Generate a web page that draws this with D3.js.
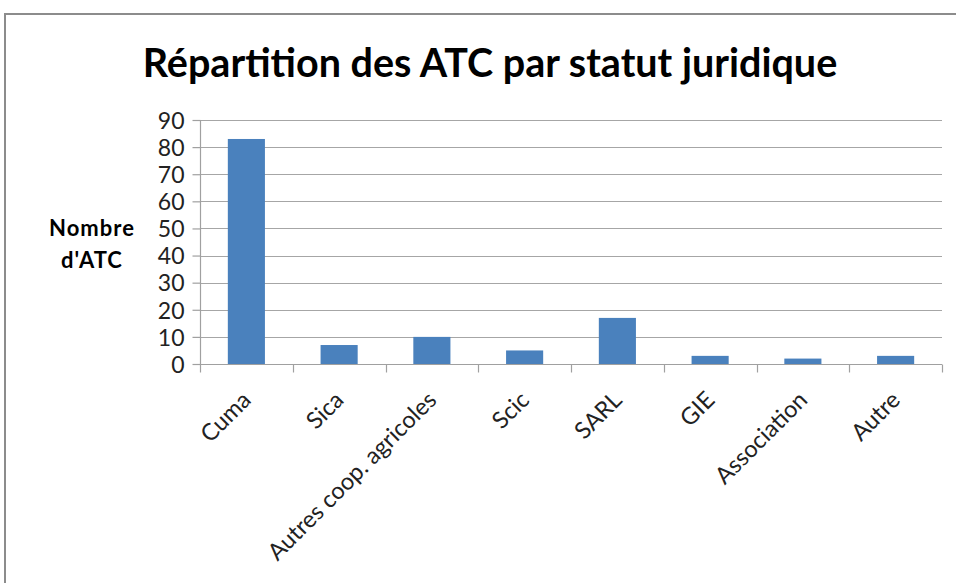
<!DOCTYPE html>
<html><head><meta charset="utf-8">
<script src="https://cdn.jsdelivr.net/npm/d3@7"></script>
<style>body{margin:0;background:#fff}svg{display:block}</style>
</head><body>
<script>
const categories = ["Cuma","Sica","Autres coop. agricoles","Scic","SARL","GIE","Association","Autre"];
const values = [83,7,10,5,17,3,2,3];
const yTicks = [0,10,20,30,40,50,60,70,80,90];
const title = "Répartition des ATC par statut juridique";
const yLabel = ["Nombre","d'ATC"];

const W=956,H=583;
const svg=d3.select("body").append("svg").attr("width",W).attr("height",H);
const font="Lato, 'Open Sans', sans-serif";

// outer frame
svg.append("path").attr("d",`M5,${H+5} L5,14 L${W+5},14`).attr("fill","none").attr("stroke","#8c8c8c").attr("stroke-width",2);

svg.append("text").attr("x",490).attr("y",77).attr("text-anchor","middle")
  .attr("font-family",font).attr("font-weight","bold").attr("font-size",39.5).attr("fill","#000").text(title);

const x=d3.scaleBand().domain(categories).range([200,942]).paddingInner(0.6).paddingOuter(0.3);
const y=d3.scaleLinear().domain([0,90]).range([364,120]);

// gridlines
svg.append("g").selectAll("line").data(yTicks.filter(d=>d>0)).join("line")
  .attr("x1",200).attr("x2",942).attr("y1",d=>Math.round(y(d))+0.5).attr("y2",d=>Math.round(y(d))+0.5)
  .attr("stroke","#a6a6a6").attr("stroke-width",1.2);

// bars
svg.append("g").selectAll("rect").data(values).join("rect")
  .attr("x",(d,i)=>x(categories[i])).attr("width",x.bandwidth())
  .attr("y",d=>y(d)).attr("height",d=>y(0)-y(d)).attr("fill","#4a81bd");

// y axis
const ya=svg.append("g").attr("transform","translate(200.5,0)")
  .call(d3.axisLeft(y).tickValues(yTicks).tickSize(8).tickPadding(8));
ya.selectAll("path,line").attr("stroke","#a0a0a0").attr("stroke-width",1.2);
ya.select("path").attr("d","M0,120V364.5");
ya.selectAll("text").attr("font-family",font).attr("font-size",23).attr("fill","#222").attr("dy","0.36em");

// x axis
const band=d3.scaleBand().domain(categories).range([200,942]);
const xa=svg.append("g").attr("transform","translate(0,364.5)");
xa.append("line").attr("x1",200).attr("x2",942).attr("stroke","#a0a0a0").attr("stroke-width",1.2);
xa.selectAll("line.t").data(categories.concat(["__end"])).join("line").attr("class","t")
  .attr("x1",(d,i)=>Math.round(200+i*band.step())+0.5).attr("x2",(d,i)=>Math.round(200+i*band.step())+0.5)
  .attr("y1",0).attr("y2",8).attr("stroke","#a0a0a0").attr("stroke-width",1.2);
xa.selectAll("text").data(categories).join("text")
  .attr("transform",d=>`translate(${band(d)+band.bandwidth()/2+6},37) rotate(-45)`)
  .attr("text-anchor","end").attr("font-family",font).attr("font-size",23.5).attr("fill","#222").text(d=>d);

// y label
svg.append("g").selectAll("text").data(yLabel).join("text")
  .attr("x",92).attr("y",(d,i)=>236+i*32).attr("text-anchor","middle")
  .attr("font-family",font).attr("font-weight","bold").attr("font-size",22).attr("letter-spacing",1)
  .attr("fill","#000").text(d=>d);
</script>
</body></html>
